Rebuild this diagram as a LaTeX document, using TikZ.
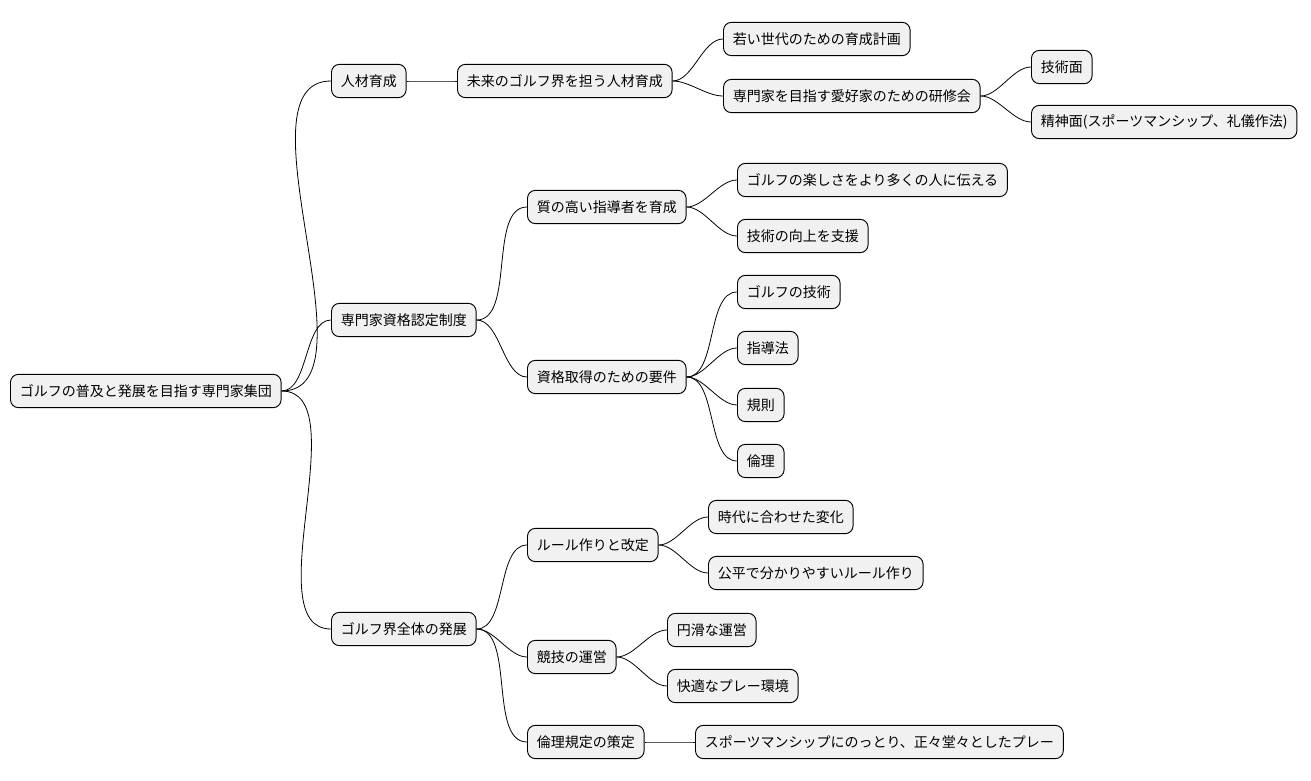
\documentclass[tikz,border=0pt]{standalone}
\usepackage{fontspec}
\setmainfont{Noto Sans CJK JP}
\usepackage{xcolor}
\usepackage{tikz}
\usetikzlibrary{positioning}
\definecolor{nodefill}{RGB}{241,241,241}
\tikzset{
    topic/.style={rectangle, rounded corners=6pt, draw, fill=nodefill, line width=0.7pt, anchor=west, minimum height=25pt, inner xsep=7pt, font=\fontsize{10.5pt}{12pt}\selectfont},
    link/.style={line width=0.6pt, out=0, in=180, looseness=0.8}
}
\begin{document}
\begin{tikzpicture}[x=0.75pt, y=0.75pt]
    \useasboundingbox (0,0) rectangle (1311,-781);
    % Root
    \node[topic] (root) at (10,-391) {ゴルフの普及と発展を目指す専門家集団};
    % Level 1
    \node[topic] (jinzai) at (331,-81) {人材育成};
    \node[topic] (shikaku) at (331,-320) {専門家資格認定制度};
    \node[topic] (hatten) at (331,-629) {ゴルフ界全体の発展};
    % Jinzai branch
    \node[topic] (mirai) at (457,-81) {未来のゴルフ界を担う人材育成};
    \node[topic] (wakai) at (723,-39) {若い世代のための育成計画};
    \node[topic] (kenshu) at (723,-96) {専門家を目指す愛好家のための研修会};
    \node[topic] (gijutsumen) at (1031,-67) {技術面};
    \node[topic] (seishin) at (1031,-122) {精神面(スポーツマンシップ、礼儀作法)};
    % Shikaku branch
    \node[topic] (shidousha) at (527,-207) {質の高い指導者を育成};
    \node[topic] (tanoshisa) at (737,-180) {ゴルフの楽しさをより多くの人に伝える};
    \node[topic] (koujou) at (737,-236) {技術の向上を支援};
    \node[topic] (youken) at (527,-377) {資格取得のための要件};
    \node[topic] (golfgijutsu) at (737,-292) {ゴルフの技術};
    \node[topic] (shidouhou) at (737,-348) {指導法};
    \node[topic] (kisoku) at (737,-405) {規則};
    \node[topic] (rinri) at (737,-461) {倫理};
    % Hatten branch
    \node[topic] (rule) at (527,-545) {ルール作りと改定};
    \node[topic] (jidai) at (708,-517) {時代に合わせた変化};
    \node[topic] (kouhei) at (708,-573) {公平で分かりやすいルール作り};
    \node[topic] (unei) at (527,-657) {競技の運営};
    \node[topic] (enkatsu) at (667,-630) {円滑な運営};
    \node[topic] (kaiteki) at (667,-686) {快適なプレー環境};
    \node[topic] (kitei) at (527,-742) {倫理規定の策定};
    \node[topic] (sports) at (695,-742) {スポーツマンシップにのっとり、正々堂々としたプレー};

    % Links
    \foreach \a/\b in {root/jinzai, root/shikaku, root/hatten,
        jinzai/mirai, mirai/wakai, mirai/kenshu, kenshu/gijutsumen, kenshu/seishin,
        shikaku/shidousha, shikaku/youken, shidousha/tanoshisa, shidousha/koujou,
        youken/golfgijutsu, youken/shidouhou, youken/kisoku, youken/rinri,
        hatten/rule, hatten/unei, hatten/kitei, rule/jidai, rule/kouhei,
        unei/enkatsu, unei/kaiteki, kitei/sports}
        \draw[link] (\a.east) to (\b.west);
\end{tikzpicture}
\end{document}
